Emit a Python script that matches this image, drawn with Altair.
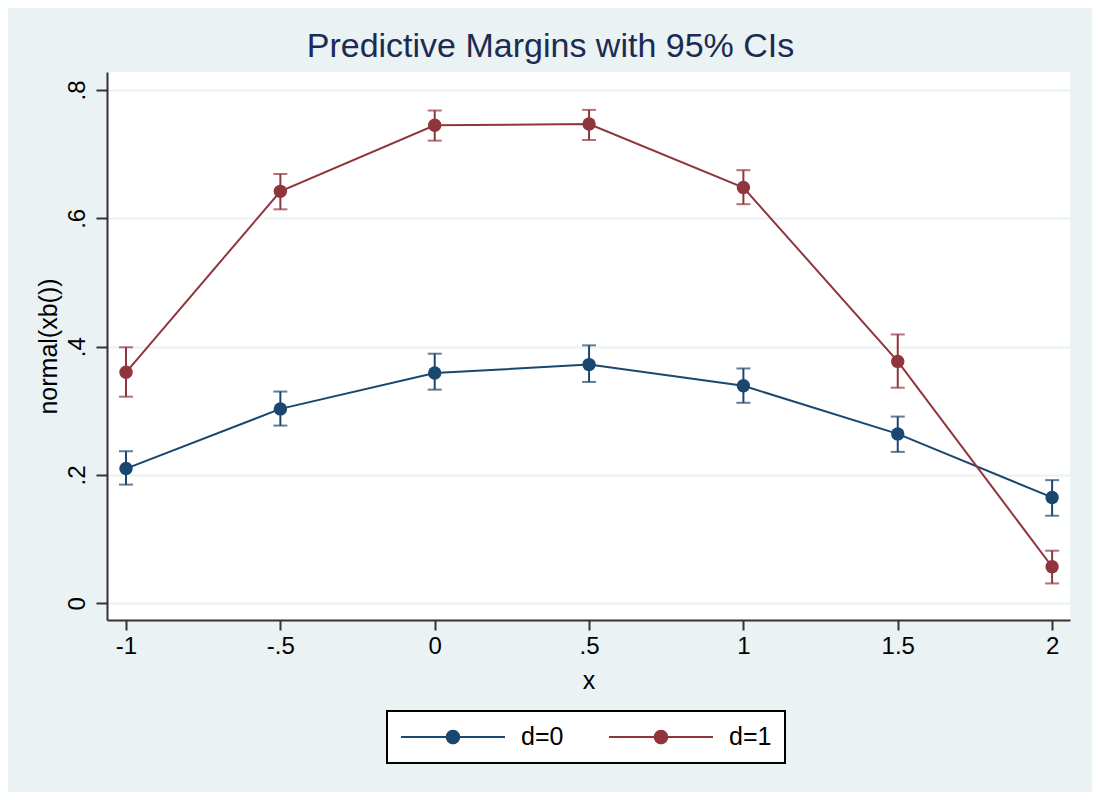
import altair as alt
import pandas as pd

xs = [-1, -0.5, 0, 0.5, 1, 1.5, 2]
x_labels = ["-1", "-.5", "0", ".5", "1", "1.5", "2"]
y_ticks = [0, 0.2, 0.4, 0.6, 0.8]
y_labels = ["0", ".2", ".4", ".6", ".8"]
series = ["d=0", "d=1"]
d0 = [0.210, 0.303, 0.359, 0.372, 0.339, 0.264, 0.165]
d0_lo = [0.185, 0.277, 0.333, 0.345, 0.3125, 0.236, 0.1365]
d0_hi = [0.237, 0.330, 0.389, 0.402, 0.366, 0.291, 0.192]
d1 = [0.360, 0.642, 0.745, 0.747, 0.648, 0.377, 0.057]
d1_lo = [0.322, 0.614, 0.721, 0.722, 0.622, 0.336, 0.031]
d1_hi = [0.399, 0.669, 0.768, 0.769, 0.675, 0.419, 0.082]
colors = ["#1a476f", "#90353b"]

rows = []
for name, m, lo, hi in [(series[0], d0, d0_lo, d0_hi), (series[1], d1, d1_lo, d1_hi)]:
    for i, x in enumerate(xs):
        rows.append({"x": x, "m": m[i], "lo": lo[i], "hi": hi[i], "d": name})
df = pd.DataFrame(rows)

FONT = "Liberation Sans"

xlab_expr = "{" + ",".join(f"'{v}':'{l}'" for v, l in zip(xs, x_labels)) + "}[toString(datum.value)]"
ylab_expr = "{" + ",".join(f"'{v}':'{l}'" for v, l in zip(y_ticks, y_labels)) + "}[toString(datum.value)]"

x_enc = alt.X(
    "x:Q",
    scale=alt.Scale(domain=[-1.0616, 2.058], nice=False, zero=False),
    axis=alt.Axis(
        values=xs, labelExpr=xlab_expr, grid=False, title="x",
        tickSize=10, tickWidth=2, tickColor="#333333",
        domainColor="#333333", domainWidth=2,
        labelFontSize=24, labelColor="black", labelFont=FONT, labelPadding=4,
        titleFontSize=25, titleColor="black", titleFont=FONT, titleFontWeight="normal",
        titlePadding=10,
    ),
)
y_axis = alt.Axis(
    values=y_ticks, labelExpr=ylab_expr, grid=True, gridColor="#eaf2f3", gridWidth=2,
    title="normal(xb())", labelAngle=270,
    tickSize=11, tickWidth=2, tickColor="#333333",
    domainColor="#333333", domainWidth=2,
    labelFontSize=24, labelColor="black", labelFont=FONT, labelPadding=7,
    titleFontSize=25, titleColor="black", titleFont=FONT, titleFontWeight="normal",
    titlePadding=4,
)
y_scale = alt.Scale(domain=[-0.026, 0.828], nice=False, zero=False)

color_scale = alt.Scale(domain=series, range=colors)

# legend symbol: horizontal line with a dot, drawn in units of sqrt(size)/2 = 13px
sym_path = ("M-4,-0.08H-0.45V0.08H-4Z "
            "M0.45,-0.08H4V0.08H0.45Z "
            "M-0.56,0A0.56,0.56,0,1,1,0.56,0A0.56,0.56,0,1,1,-0.56,0Z")

color_enc = alt.Color(
    "d:N", scale=color_scale, title=None,
    legend=alt.Legend(
        orient="none", legendX=280, legendY=639, direction="horizontal",
        symbolType=sym_path, symbolSize=676, symbolStrokeWidth=0,
        symbolOffset=40, labelOffset=55,
        labelFontSize=25, labelFont=FONT, labelColor="black",
        columnPadding=44, padding=13, strokeColor="black", fillColor="white",
        symbolOpacity=1,
    ),
)

base = alt.Chart(df)

rules = base.mark_rule(strokeWidth=2).encode(
    x=x_enc,
    y=alt.Y("lo:Q", scale=y_scale, axis=y_axis),
    y2="hi:Q",
    color=color_enc,
)
caps_lo = base.mark_tick(orient="horizontal", size=14, thickness=2).encode(
    x="x:Q", y="lo:Q", color=color_enc,
)
caps_hi = base.mark_tick(orient="horizontal", size=14, thickness=2).encode(
    x="x:Q", y="hi:Q", color=color_enc,
)
lines = base.mark_line(strokeWidth=2).encode(
    x="x:Q", y="m:Q", color=color_enc, detail="d:N",
)
points = base.mark_point(filled=True, opacity=1, size=180, strokeWidth=0).encode(
    x="x:Q", y="m:Q", color=color_enc,
)

chart = alt.layer(rules, caps_lo, caps_hi, lines, points).properties(
    width=963,
    height=548,
    autosize=alt.AutoSizeParams(type="none"),
    padding={"left": 99, "top": 64, "right": 22, "bottom": 172},
    background="#eaf2f3",
    title=alt.Title(
        "Predictive Margins with 95% CIs", fontSize=34, font=FONT, color="#1c2b52",
        fontWeight="normal", anchor="middle", dx=-38, offset=8,
    ),
).configure_view(fill="white", stroke=None).configure_legend(strokeWidth=2)

chart.save("out.html", embed_options={"renderer": "svg", "actions": False})
